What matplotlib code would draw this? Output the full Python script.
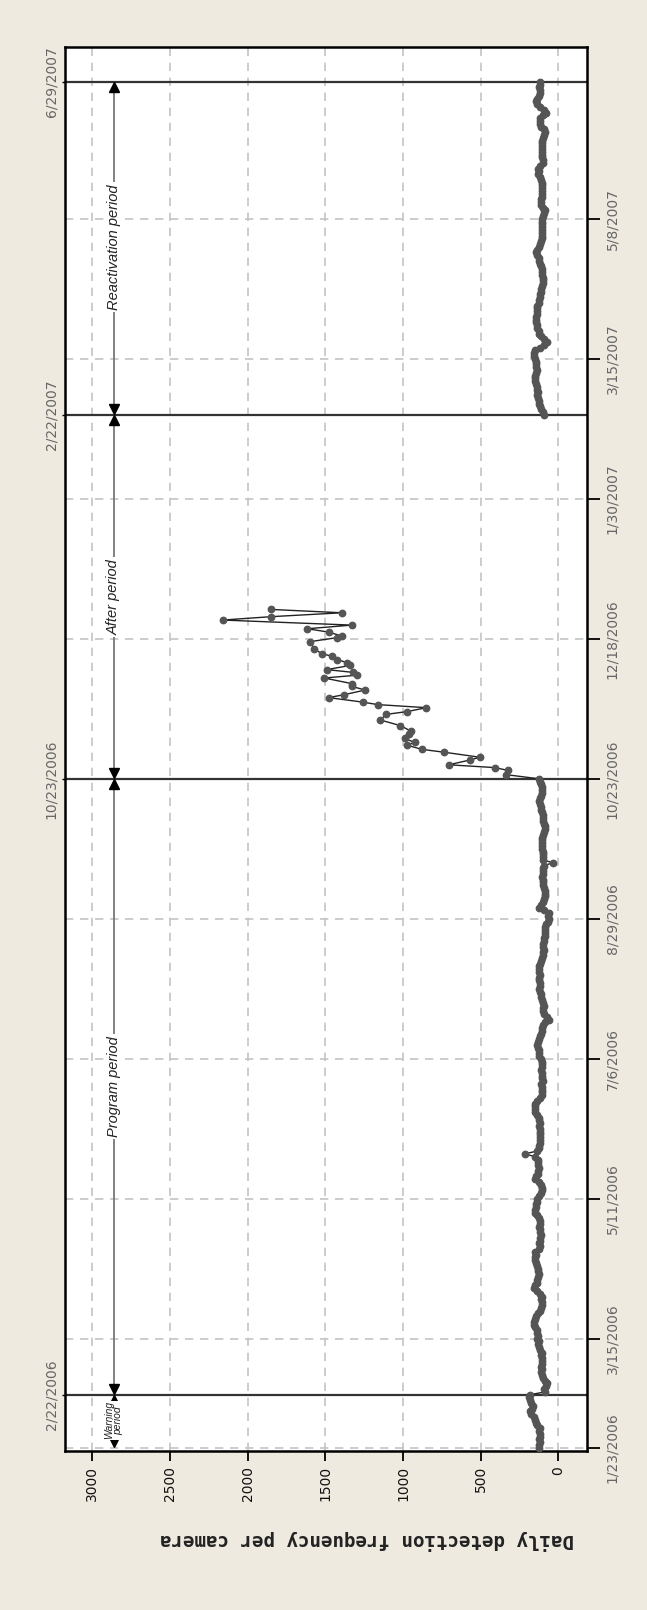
import matplotlib
matplotlib.use('Agg')
import matplotlib.pyplot as plt

# 観測番号（日付軸は観測順）
warning_vals = [128, 122, 118, 125, 120, 116, 123, 119, 135, 142, 150, 158, 176, 183, 170, 165, 178, 186, 192, 180]

program_vals = [86, 95, 80, 75, 88,
                100, 107, 112, 105, 110, 104,
                108, 106, 112, 107, 118, 125, 130, 128, 135, 132,
                140, 138, 150, 155, 157, 150, 142, 130, 118, 110,
                107, 105, 112, 108, 120, 138, 157, 150, 140, 135,
                130, 128, 132, 130, 138, 142, 148, 150, 145, 150,
                128, 119, 122, 118, 120, 115, 121, 118, 124, 119,
                120, 126, 138, 148, 150, 146, 142, 140, 138, 125,
                115, 107, 105, 112, 128, 150, 145, 132, 130, 128,
                132, 130, 134, 150, 216, 140, 128, 122, 118, 120,
                119, 116, 121, 118, 124, 119, 122, 128, 140, 150,
                152, 148, 150, 135, 118, 107, 104, 108, 107, 110,
                101, 104, 107, 105, 110, 106, 103, 108, 112, 122,
                122, 128, 130, 135, 132, 128, 120, 112, 107, 104,
                100, 88, 63, 75, 92, 97, 99, 95, 97, 104,
                110, 115, 120, 122, 118, 120, 124, 122, 120, 122,
                124, 122, 118, 112, 105, 100, 97, 95, 98, 97,
                92, 90, 88, 86, 86, 88, 78, 70, 63, 65,
                63, 95, 122, 110, 100, 92, 88, 86, 88, 94,
                98, 100, 102, 105, 101, 100, 98, 95, 33, 100,
                101, 99, 102, 104, 106, 107, 107, 103, 98, 92,
                88, 86, 90, 96, 100, 102, 104, 110, 115, 118,
                122, 118, 112, 108, 106, 108, 112, 118, 125]

after_idx = [240.5, 242, 243, 244, 245.7, 246.7, 248.5, 249.5, 251, 252, 253.4, 255, 256, 258,
             260, 262, 263, 264.4, 265.5, 266.4, 268, 269, 270.7, 272, 273, 275, 276, 277, 278,
             279.5, 280.5, 281.6, 282.8, 283.7, 285.4, 288, 289.4, 290, 291.4, 292.6, 293.9,
             295.7, 296.9, 298.3, 299.5]
after_vals = [340, 325, 410, 705, 570, 505, 737, 877, 974, 925, 990, 960, 948, 1017,
              1146, 1109, 974, 849, 1163, 1260, 1479, 1382, 1243, 1329, 1329, 1507, 1296, 1320, 1490,
              1339, 1360, 1425, 1458, 1522, 1572, 1597, 1425, 1393, 1479, 1615, 1329,
              2160, 1851, 1393, 1851]

reactivation_vals = [92, 100, 110, 119, 125, 128, 130, 135, 132, 135,
                     140, 145, 148, 150, 150, 146, 140, 142, 144, 146,
                     150, 155, 157, 150, 120, 90, 75, 95, 110, 122,
                     128, 135, 140, 144, 146, 144, 140, 138, 140, 136,
                     128, 122, 120, 118, 115, 110, 105, 97, 98, 100,
                     104, 107, 107, 112, 118, 122, 128, 138, 144, 140,
                     128, 118, 110, 107, 107, 106, 107, 108, 107, 107,
                     104, 100, 95, 86, 100, 110, 115, 112, 108, 107,
                     107, 108, 106, 104, 112, 120, 130, 128, 130, 120,
                     97, 100, 104, 107, 107, 106, 107, 108, 104, 98,
                     90, 86, 95, 110, 119, 120, 118, 100, 81, 95,
                     120, 135, 144, 138, 125, 119, 120, 122, 119, 119]
reactivation_start = 369

tick_idx = [0, 39, 89, 139, 189, 239, 289, 339, 389, 439]
tick_labels = ['1/23/2006', '3/15/2006', '5/11/2006', '7/6/2006', '8/29/2006',
               '10/23/2006', '12/18/2006', '1/30/2007', '3/15/2007', '5/8/2007']
period_idx = [19, 239, 369, 488]
period_labels = ['2/22/2006', '10/23/2006', '2/22/2007', '6/29/2007']
period_names = ['Program period', 'After period', 'Reactivation period']
freq_ticks = [0, 500, 1000, 1500, 2000, 2500, 3000]

# 系列をつなげる
base_vals = warning_vals + program_vals
base_idx = list(range(len(base_vals)))
x_first = base_vals + after_vals
y_first = base_idx + after_idx
y_react = list(range(reactivation_start, reactivation_start + len(reactivation_vals)))

bg = '#EEEAE0'
fig = plt.figure(figsize=(6.47, 16.10), dpi=100, facecolor=bg)
ax = fig.add_axes([0.1005, 0.0988, 0.8068, 0.872])
ax.set_facecolor('white')

# グリッド
for v in freq_ticks:
    ax.axvline(v, color='#c4c4c4', lw=1.2, ls=(0, (5, 4)), zorder=1)
for t in tick_idx:
    ax.axhline(t, color='#c4c4c4', lw=1.2, ls=(0, (5, 4)), zorder=1)

# 期間の境界線
for p in period_idx:
    ax.axhline(p, color='#333333', lw=1.6, zorder=2)

# データ
ax.plot(x_first, y_first, color='#222222', lw=1.0, marker='o', ms=4.6,
        mfc='#555555', mec='#555555', zorder=4)
ax.plot(reactivation_vals, y_react, color='#222222', lw=1.0, marker='o', ms=4.6,
        mfc='#555555', mec='#555555', zorder=4)

# 期間の矢印
arr_x = 2860
spans = [(0, period_idx[0]), (period_idx[0], period_idx[1]),
         (period_idx[1], period_idx[2]), (period_idx[2], period_idx[3])]
for lo, hi in spans:
    ax.plot([arr_x, arr_x], [lo + 1, hi - 1], color='#777777', lw=1.3, zorder=3)
    ax.plot(arr_x, hi - 2.0, marker='^', color='black', ms=7, zorder=5)
    ax.plot(arr_x, lo + 2.0, marker='v', color='black', ms=7, zorder=5)

label_pos = [129, 304, 429]
for name, pos in zip(period_names, label_pos):
    ax.text(arr_x, pos, name, rotation=90, ha='center', va='center', fontsize=10.5,
            style='italic', family='Liberation Sans', color='#222222',
            bbox=dict(fc='white', ec='none', pad=1.5), zorder=6)
ax.text(arr_x, 9.8, 'Warning\nperiod', rotation=90, ha='center', va='center', fontsize=7.4,
        style='italic', family='Liberation Sans', color='#222222', linespacing=0.85,
        bbox=dict(fc='white', ec='none', pad=0.2), zorder=6)

ax.set_xlim(3174, -184)
ax.set_ylim(-1.1, 500.4)

ax.set_xticks(freq_ticks)
ax.set_xticklabels([str(v) for v in freq_ticks], rotation=90, fontsize=10, color='#111111')
ax.tick_params(axis='x', direction='out', length=7, width=1.3, pad=4)

ax.yaxis.tick_right()
ax.set_yticks(tick_idx)
ax.set_yticklabels(tick_labels, rotation=90, fontsize=10, color='#666666', va='center')
ax.tick_params(axis='y', direction='out', length=9, width=1.3, pad=4)

sec = ax.secondary_yaxis('left')
sec.set_yticks(period_idx)
sec.set_yticklabels(period_labels, rotation=90, fontsize=10, color='#666666', va='center')
sec.tick_params(axis='y', length=2, width=1, pad=3)
sec.spines['left'].set_visible(False)

for s in ax.spines.values():
    s.set_linewidth(1.8)
    s.set_color('black')

fig.text(0.567, 0.0432, 'Daily detection frequency per camera', rotation=180,
         ha='center', va='center', fontsize=13.8, family='DejaVu Sans Mono',
         fontweight='bold', color='#222222')

fig.savefig('out.png', dpi=100, facecolor=bg)
